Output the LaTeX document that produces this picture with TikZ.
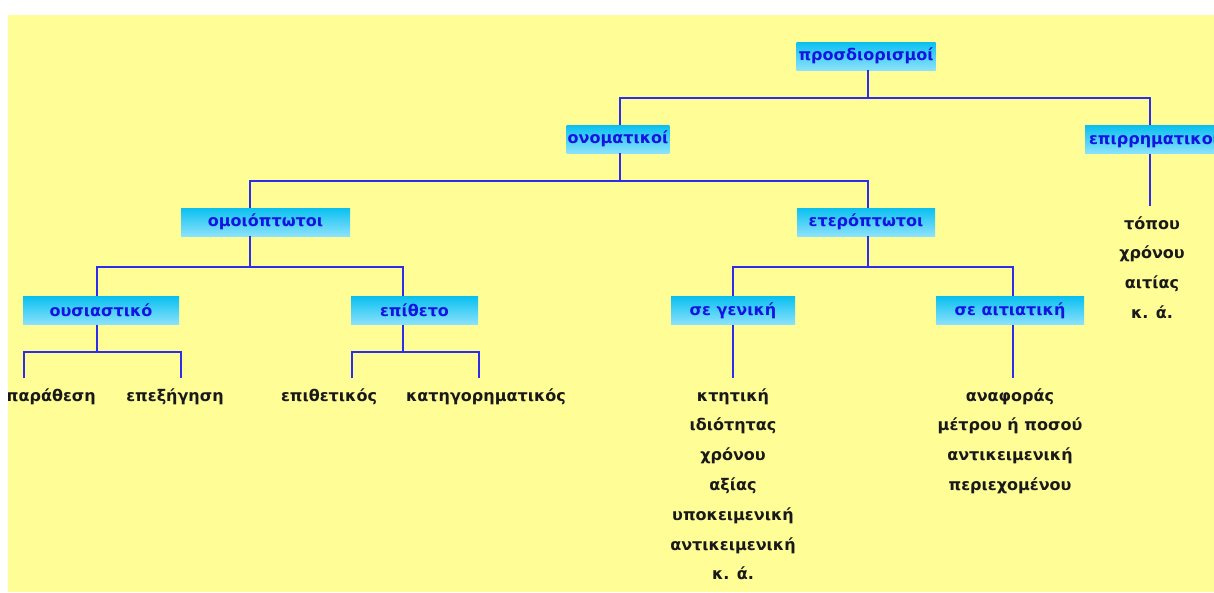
\documentclass[tikz,border=0pt]{standalone}
\usepackage{fontspec}
\setmainfont{DejaVu Sans}
\definecolor{bg}{RGB}{255,253,150}
\definecolor{boxtop}{RGB}{10,192,240}
\definecolor{boxbot}{RGB}{140,226,252}
\definecolor{boxtext}{RGB}{20,20,225}
\definecolor{linec}{RGB}{45,45,235}
\begin{document}
\begin{tikzpicture}[x=1pt,y=-1pt,
  box/.style={top color=boxtop, bottom color=boxbot, text=boxtext,
    font=\fontsize{16}{18}\selectfont\bfseries, minimum height=28pt, inner sep=1pt, draw=none},
  leaf/.style={font=\fontsize{16}{29.8}\selectfont\bfseries, text=black!90, align=center, inner sep=0pt, anchor=north},
  conn/.style={draw=linec, line width=1.3pt}]
\useasboundingbox (0,0) rectangle (1214,592);
\fill[bg] (8,15) rectangle (1214,592);
\begin{scope}
\clip (8,15) rectangle (1214,592);
% boxes
\node[box, minimum width=139pt] (P) at (866,56) {προσδιορισμοί};
\node[box, minimum width=102pt] (N) at (618,139) {ονοματικοί};
\node[box, minimum width=138pt] (E) at (1154,139.5) {επιρρηματικοί};
\node[box, minimum width=169pt] (O) at (265.5,222) {ομοιόπτωτοι};
\node[box, minimum width=138pt] (H) at (866,222) {ετερόπτωτοι};
\node[box, minimum width=156pt] (U) at (101,310.5) {ουσιαστικό};
\node[box, minimum width=127pt] (T) at (414.5,310.5) {επίθετο};
\node[box, minimum width=124pt] (G) at (733,310.5) {σε γενική};
\node[box, minimum width=148pt] (A) at (1010,310.5) {σε αιτιατική};
% leaves
\node[leaf, anchor=north east] (l1) at (96,388) {παράθεση};
\node[leaf] (l2) at (175,388) {επεξήγηση};
\node[leaf] (l3) at (329,388) {επιθετικός};
\node[leaf] (l4) at (486,388) {κατηγορηματικός};
\node[leaf] (l5) at (733,388) {κτητική\\ιδιότητας\\χρόνου\\αξίας\\υποκειμενική\\αντικειμενική\\κ. ά.};
\node[leaf] (l6) at (1010,388) {αναφοράς\\μέτρου ή ποσού\\αντικειμενική\\περιεχομένου};
\node[leaf] (l7) at (1152,216) {τόπου\\χρόνου\\αιτίας\\κ. ά.};
% junction coordinates
\coordinate (jP) at (868,98);
\coordinate (kN) at (620,98);
\coordinate (kE) at (1150,98);
\coordinate (eE) at (1150,206);
\coordinate (jN) at (620,181);
\coordinate (kO) at (250,181);
\coordinate (kH) at (868,181);
\coordinate (jO) at (250,267);
\coordinate (kU) at (97,267);
\coordinate (kT) at (403,267);
\coordinate (jH) at (868,267);
\coordinate (kG) at (733,267);
\coordinate (kA) at (1013,267);
\coordinate (jU) at (97,352);
\coordinate (u1) at (24,352);
\coordinate (u2) at (181,352);
\coordinate (u1e) at (24,378);
\coordinate (u2e) at (181,378);
\coordinate (jT) at (403,352);
\coordinate (t1) at (352,352);
\coordinate (t2) at (479,352);
\coordinate (t1e) at (352,378);
\coordinate (t2e) at (479,378);
\coordinate (gE) at (733,378);
\coordinate (aE) at (1013,378);
% connectors
\draw[conn] (P.south -| jP) -- (jP);
\draw[conn] (N.north -| kN) -- (kN) -- (kE) -- (E.north -| kE);
\draw[conn] (E.south -| kE) -- (eE);
\draw[conn] (N.south -| jN) -- (jN);
\draw[conn] (O.north -| kO) -- (kO) -- (kH) -- (H.north -| kH);
\draw[conn] (O.south -| jO) -- (jO);
\draw[conn] (U.north -| kU) -- (kU) -- (kT) -- (T.north -| kT);
\draw[conn] (H.south -| jH) -- (jH);
\draw[conn] (G.north -| kG) -- (kG) -- (kA) -- (A.north -| kA);
\draw[conn] (U.south -| jU) -- (jU);
\draw[conn] (u1e) -- (u1) -- (u2) -- (u2e);
\draw[conn] (T.south -| jT) -- (jT);
\draw[conn] (t1e) -- (t1) -- (t2) -- (t2e);
\draw[conn] (G.south -| gE) -- (gE);
\draw[conn] (A.south -| aE) -- (aE);
\end{scope}
\end{tikzpicture}
\end{document}
